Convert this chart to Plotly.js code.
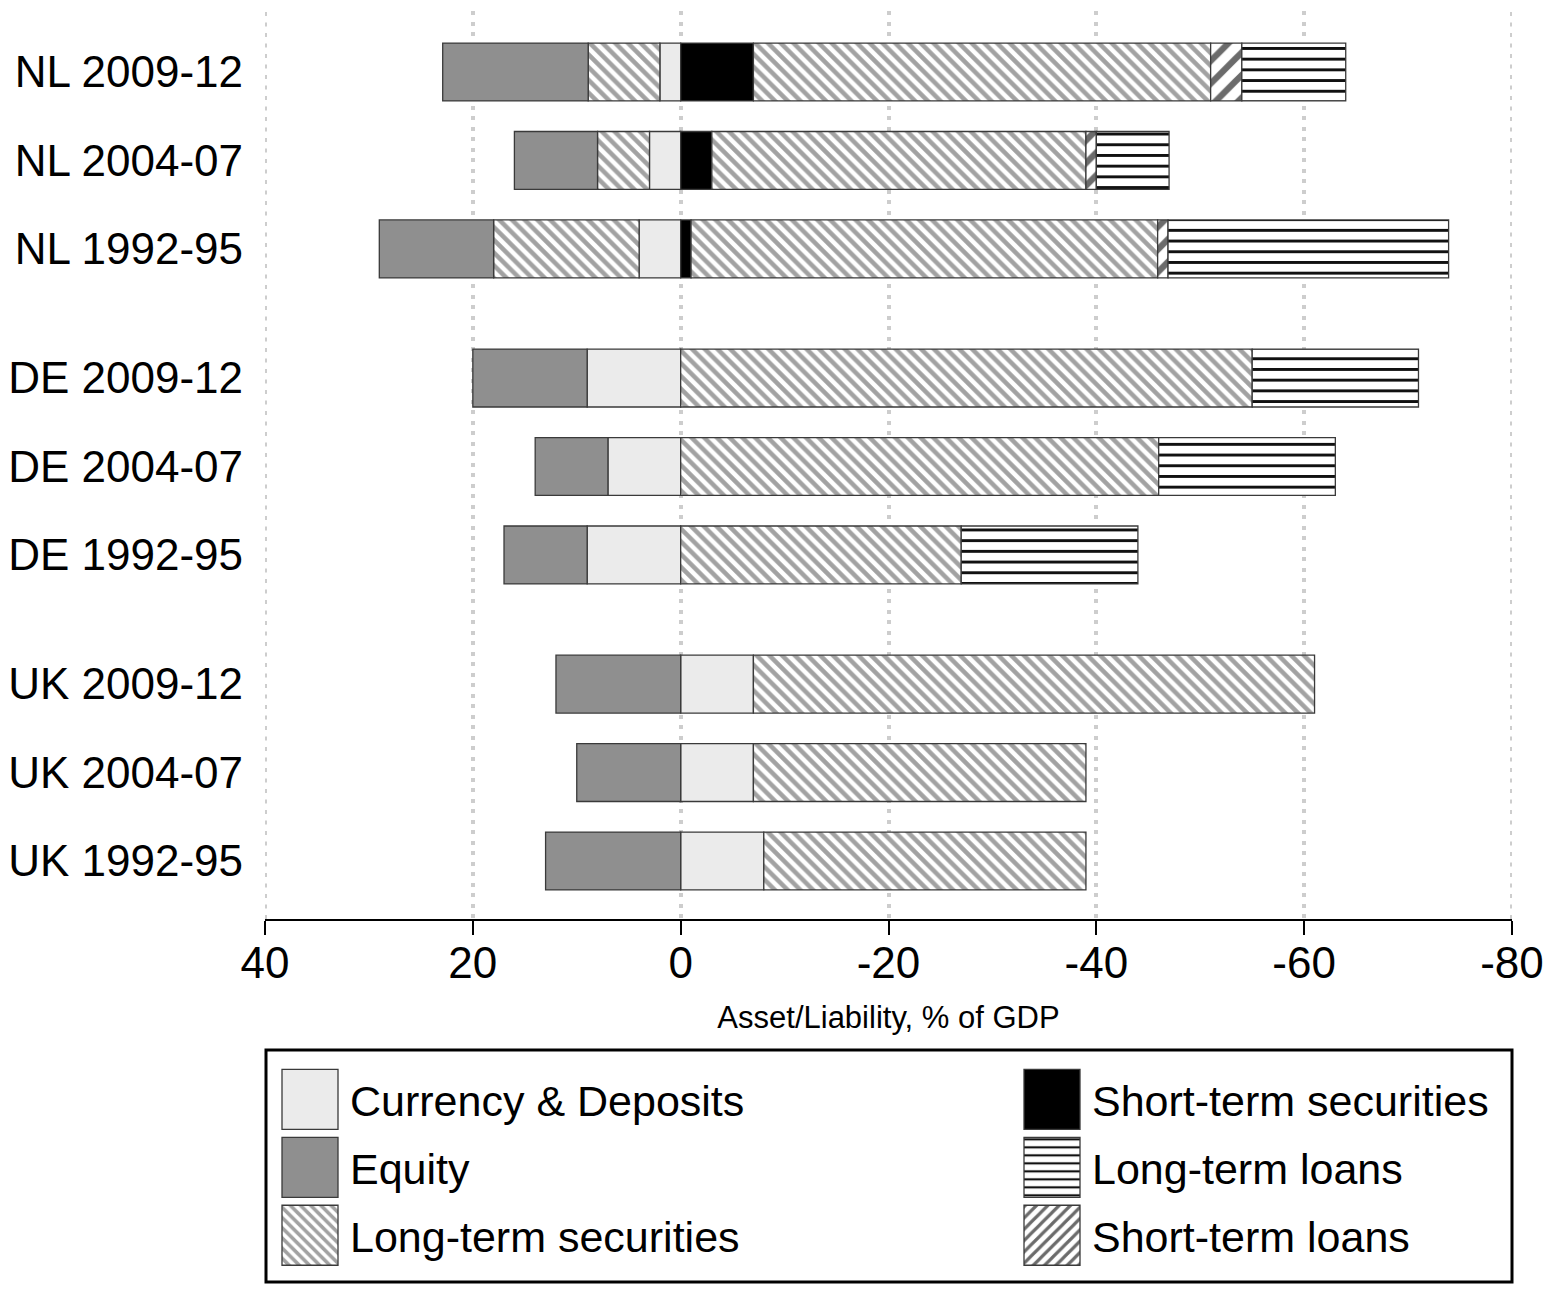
<!DOCTYPE html>
<html><head><meta charset="utf-8">
<script src="https://cdn.plot.ly/plotly-3.0.1.min.js"></script>
<style>html,body{margin:0;padding:0;background:#fff}</style>
</head><body>
<div id="chart" style="width:1551px;height:1292px"></div>
<script>
// ---- data (positive = asset, negative = liability), % of GDP ----
const categories = ['NL 2009-12','NL 2004-07','NL 1992-95','DE 2009-12','DE 2004-07','DE 1992-95','UK 2009-12','UK 2004-07','UK 1992-95'];
const currencyDeposits = [2, 3, 4, 9, 7, 9, -7, -7, -8];
const longTermSecuritiesAssets = [6.9, 5, 14, null, null, null, null, null, null];
const equity = [14, 8, 11, 11, 7, 8, 12, 10, 13];
const shortTermSecurities = [-7, -3, -1, null, null, null, null, null, null];
const longTermSecuritiesLiabilities = [-44, -36, -44.9, -55, -46, -27, -54, -32, -31];
const shortTermLoans = [-3, -1, -1, null, null, null, null, null, null];
const longTermLoans = [-10, -7, -27, -16, -17, -17, null, null, null];
const xTickValues = [40, 20, 0, -20, -40, -60, -80];
const xTickLabels = ['40', '20', '0', '-20', '-40', '-60', '-80'];

// ---- layout helpers ----
const groupGap = 0.46;
const yPos = categories.map((c, i) => i + Math.floor(i / 3) * groupGap);
const barW = 0.655;
const FONT = 'Liberation Sans, Arial, sans-serif';
const outline = {color: '#3a3a3a', width: 1.3};

function bar(name, values, marker, extra) {
  return Object.assign({
    type: 'bar', orientation: 'h', name: name,
    x: values, y: yPos, width: barW,
    marker: Object.assign({line: outline}, marker),
    hoverinfo: 'skip'
  }, extra || {});
}

const ltsPattern = {shape: '\\', fgcolor: '#a2a2a2', bgcolor: '#ffffff', size: 9, solidity: 0.5};

const data = [
  bar('Currency & Deposits', currencyDeposits, {color: '#ebebeb'}, {legend: 'legend', legendgroup: 'cd', legendrank: 1}),
  bar('Long-term securities', longTermSecuritiesAssets, {color: '#ffffff', pattern: ltsPattern}, {legend: 'legend', legendgroup: 'lts', legendrank: 3}),
  bar('Equity', equity, {color: '#8f8f8f'}, {legend: 'legend', legendgroup: 'eq', legendrank: 2}),
  bar('Short-term securities', shortTermSecurities, {color: '#000000'}, {legend: 'legend2', legendgroup: 'sts', legendrank: 1}),
  bar('Long-term securities', longTermSecuritiesLiabilities, {color: '#ffffff', pattern: ltsPattern}, {legend: 'legend', legendgroup: 'lts', showlegend: false}),
  bar('Short-term loans', shortTermLoans, {color: '#ffffff', pattern: {shape: '/', fgcolor: '#6b6b6b', bgcolor: '#ffffff', size: 16, solidity: 0.4}}, {legend: 'legend2', legendgroup: 'stl', legendrank: 3}),
  bar('Long-term loans', longTermLoans, {color: '#ffffff', pattern: {shape: '-', fgcolor: '#111111', bgcolor: '#ffffff', size: 10.7, solidity: 0.27}}, {legend: 'legend2', legendgroup: 'ltl', legendrank: 2})
];

const plotTop = 11, plotBottom = 919, plotLeft = 265, plotRight = 1512;
const plotH = plotBottom - plotTop, plotW = plotRight - plotLeft;
const pyPaper = px => (plotBottom - px) / plotH;
const pxPaper = px => (px - plotLeft) / plotW;

const legendCommon = {
  font: {family: FONT, size: 43, color: '#000'},
  itemwidth: 70, traceorder: 'grouped', tracegroupgap: 9,
  bgcolor: 'rgba(0,0,0,0)', borderwidth: 0,
  xanchor: 'left', yanchor: 'top', orientation: 'v'
};

const gridStyle = {color: '#cdcdcd', width: 4, dash: '4px,6.5px'};
// gridlines at the axis ends (Plotly omits gridlines on the range edges)
const edgeGrid = [xTickValues[0], xTickValues[xTickValues.length - 1]].map(v => ({
  type: 'line', xref: 'x', yref: 'paper', x0: v, x1: v, y0: 0, y1: 1,
  line: gridStyle, layer: 'below'
}));

const layout = {
  width: 1551, height: 1292,
  margin: {l: plotLeft, r: 1551 - plotRight, t: plotTop, b: 1292 - plotBottom},
  paper_bgcolor: '#ffffff', plot_bgcolor: '#ffffff',
  barmode: 'relative',
  font: {family: FONT, color: '#000'},
  xaxis: {
    range: [40, -80], tickvals: xTickValues, ticktext: xTickLabels,
    showgrid: true, gridcolor: gridStyle.color, gridwidth: gridStyle.width, griddash: gridStyle.dash,
    zeroline: false, showline: true, linecolor: '#000', linewidth: 2,
    ticks: 'outside', ticklen: 14, tickwidth: 2, tickcolor: '#000',
    tickfont: {family: FONT, size: 44, color: '#000'},
    ticklabelstandoff: -10,
    title: {text: 'Asset/Liability, % of GDP', font: {family: FONT, size: 31, color: '#000'}, standoff: 21}
  },
  yaxis: {
    range: [8 + 2 * groupGap + (plotBottom - 861) / 88.45, -(72 - plotTop) / 88.45],
    tickvals: yPos, ticktext: categories,
    showgrid: false, zeroline: false, showline: false, ticks: '',
    tickfont: {family: FONT, size: 44, color: '#000'},
    ticklabelstandoff: 21
  },
  legend: Object.assign({}, legendCommon, {x: pxPaper(270), y: pyPaper(1065)}),
  legend2: Object.assign({}, legendCommon, {x: pxPaper(1012), y: pyPaper(1065)}),
  shapes: edgeGrid.concat([{
    type: 'rect', xref: 'paper', yref: 'paper',
    x0: pxPaper(266), x1: pxPaper(1512), y0: pyPaper(1050), y1: pyPaper(1282),
    line: {color: '#000', width: 3}, fillcolor: 'rgba(0,0,0,0)'
  }])
};

function enlargeLegendSymbols() {
  document.querySelectorAll('g.legendpoints path').forEach(p => {
    p.setAttribute('d', 'M28,30H-28V-30H28Z');
  });
}

Plotly.newPlot('chart', data, layout, {staticPlot: true, displayModeBar: false}).then(gd => {
  enlargeLegendSymbols();
  gd.on && gd.on('plotly_afterplot', enlargeLegendSymbols);
  [0, 50, 200, 500, 1000].forEach(t => setTimeout(enlargeLegendSymbols, t));
});
</script>
</body></html>
